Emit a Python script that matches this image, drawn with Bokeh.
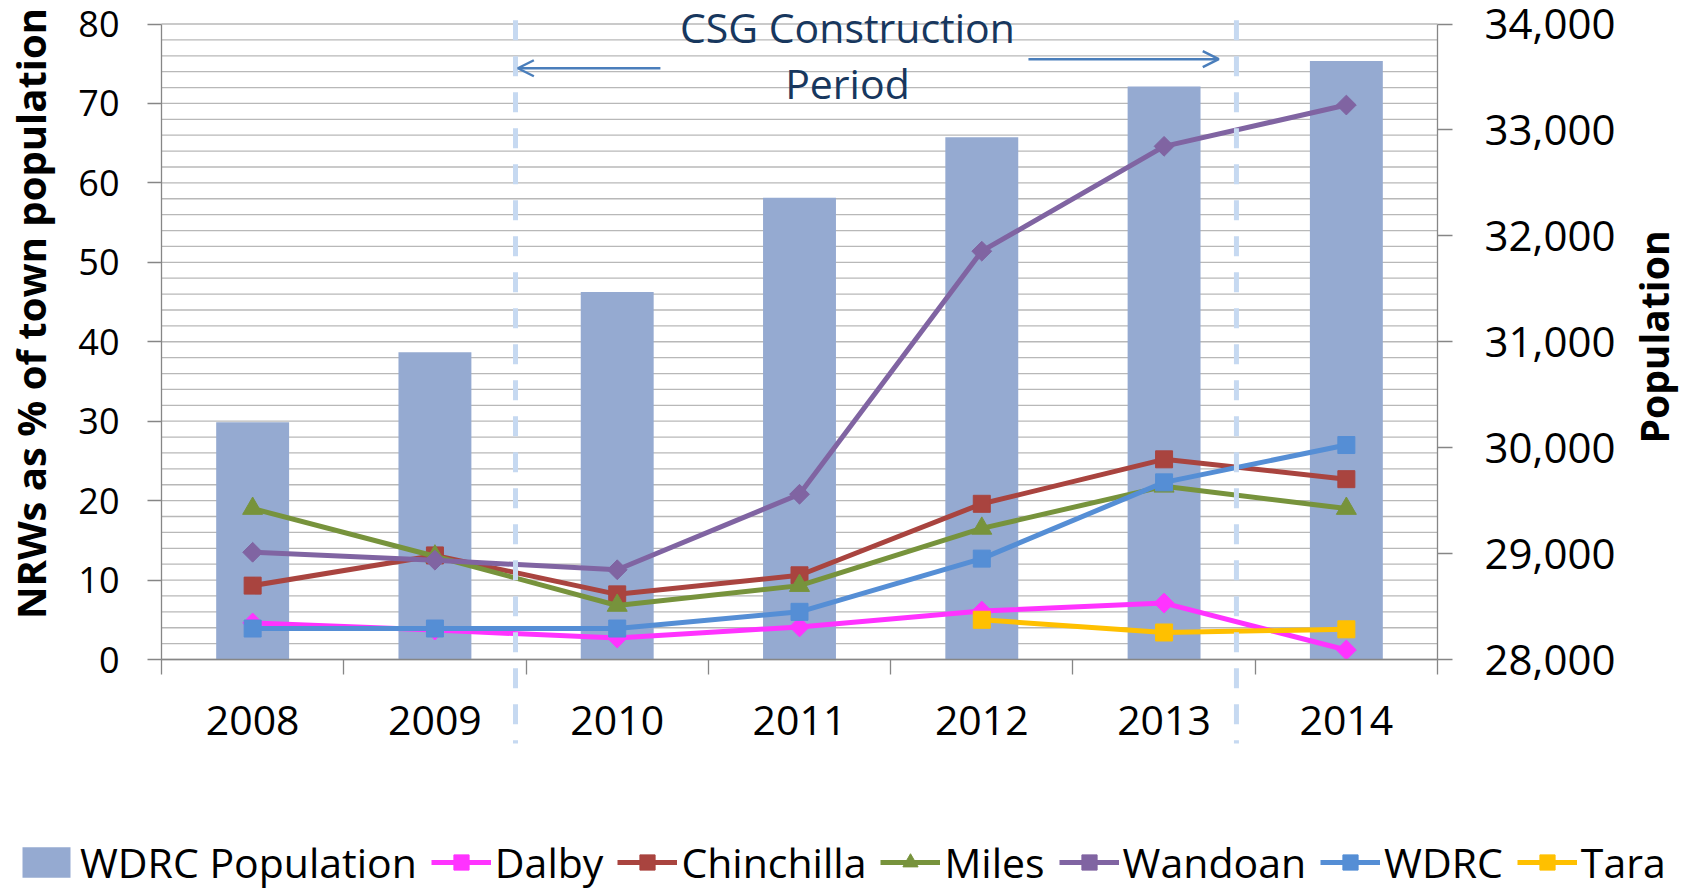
import math
from bokeh.plotting import figure
from bokeh.models import (Range1d, LinearAxis, FixedTicker, NumeralTickFormatter, Label,
                          Arrow, OpenHead, ColumnDataSource, Legend, LegendItem)
from bokeh.embed import file_html
from bokeh.resources import INLINE

NaN = float("nan")

# ---------------- data ----------------
years = ["2008", "2009", "2010", "2011", "2012", "2013", "2014"]
wdrc_population = [30240, 30900, 31470, 32360, 32930, 33410, 33650]
dalby = [4.6, 3.7, 2.7, 4.1, 6.1, 7.1, 1.2]
chinchilla = [9.3, 13.1, 8.2, 10.6, 19.6, 25.2, 22.7]
miles = [19.0, 13.0, 6.8, 9.3, 16.5, 21.8, 19.0]
wandoan = [13.5, 12.5, 11.3, 20.8, 51.4, 64.6, 69.8]
wdrc = [3.9, 3.9, 3.9, 6.0, 12.7, 22.3, 27.0]
tara = [NaN, NaN, NaN, NaN, 5.0, 3.4, 3.8]
left_ticks = [0, 10, 20, 30, 40, 50, 60, 70, 80]
grid_ticks = list(range(0, 81, 2))
right_ticks = [28000, 29000, 30000, 31000, 32000, 33000, 34000]

FONT = "Open Sans"
W, H = 1694, 889
n = len(years)
xs = [i + 0.5 for i in range(n)]

# the frame covers the whole canvas; plot area is x 161..1437 px, value 0 at 659 px, 80 at 23.5 px
XL, XR = 161.0, 1437.0
PXX = (XR - XL) / n
PX = (659 - 23.5) / 80.0
X0, X1 = -XL / PXX, n + (W - XR) / PXX
Y0, Y1 = -(H - 659) / PX, 80 + 23.5 / PX
POP0, POPK = 28000, 75.0  # right axis: 28,000 at value 0, 75 people per left-axis unit

p = figure(width=W, height=H, x_range=Range1d(X0, X1), y_range=Range1d(Y0, Y1),
           output_backend="svg", toolbar_location=None,
           min_border_left=0, min_border_right=0, min_border_top=0, min_border_bottom=0)
p.title.visible = False
p.outline_line_color = None
p.background_fill_color = "white"
p.extra_y_ranges = {"pop": Range1d(POP0 + Y0 * POPK, POP0 + Y1 * POPK)}
p.xgrid.visible = False
p.ygrid.visible = False

# horizontal gridlines over the plot area only
p.segment(x0=[0] * len(grid_ticks), x1=[n] * len(grid_ticks), y0=grid_ticks, y1=grid_ticks,
          line_color="#b8b8b8", line_width=1.3, level="underlay")

AX = "#868686"
# x axis (fixed at value 0)
xa = p.xaxis[0]
xa.fixed_location = 0
xa.bounds = (0, n)
xa.ticker = FixedTicker(ticks=xs, minor_ticks=list(range(0, n + 1)))
xa.major_label_overrides = {x: y for x, y in zip(xs, years)}
xa.major_tick_line_color = None
xa.major_tick_out = 0
xa.major_tick_in = 0
xa.minor_tick_out = 15
xa.minor_tick_in = 0
xa.minor_tick_line_color = AX
xa.minor_tick_line_width = 1.3
xa.axis_line_color = AX
xa.axis_line_width = 1.3
xa.major_label_text_font = FONT
xa.major_label_text_font_size = "41px"
xa.major_label_text_color = "black"
xa.major_label_standoff = 31

# left axis
ya = p.yaxis[0]
ya.fixed_location = 0
ya.bounds = (0, 80)
ya.ticker = FixedTicker(ticks=left_ticks)
ya.major_tick_out = 14
ya.major_tick_in = 0
ya.minor_tick_line_color = None
ya.major_tick_line_color = AX
ya.major_tick_line_width = 1.3
ya.axis_line_color = AX
ya.axis_line_width = 1.3
ya.major_label_text_font = FONT
ya.major_label_text_font_size = "36px"
ya.major_label_text_color = "black"
ya.major_label_standoff = 28

# left title carried by a bare axis (bounds only used to centre the title)
ta = LinearAxis(ticker=FixedTicker(ticks=[]), bounds=(7.2, 80), fixed_location=0,
                axis_label="NRWs as % of town population")
ta.axis_line_color = None
ta.major_tick_line_color = None
ta.minor_tick_line_color = None
ta.axis_label_text_font = FONT
ta.axis_label_text_font_size = "40px"
ta.axis_label_text_font_style = "bold"
ta.axis_label_text_color = "black"
ta.axis_label_standoff = 104
p.add_layout(ta, "left")

# right axis
ra = LinearAxis(y_range_name="pop", ticker=FixedTicker(ticks=right_ticks),
                formatter=NumeralTickFormatter(format="0,0"), bounds=(28000, 34000),
                fixed_location=n)
ra.major_tick_out = 15
ra.major_tick_in = 0
ra.minor_tick_line_color = None
ra.major_tick_line_color = AX
ra.major_tick_line_width = 1.3
ra.axis_line_color = AX
ra.axis_line_width = 1.3
ra.major_label_text_font = FONT
ra.major_label_text_font_size = "42px"
ra.major_label_text_color = "black"
ra.major_label_standoff = 32
p.add_layout(ra, "right")

# right title carried by a bare axis, reading bottom-to-top
rt = LinearAxis(ticker=FixedTicker(ticks=[]), bounds=(0, 54.4), fixed_location=n,
                axis_label="Population")
rt.axis_line_color = None
rt.major_tick_line_color = None
rt.minor_tick_line_color = None
rt.axis_label_text_font = FONT
rt.axis_label_text_font_size = "39px"
rt.axis_label_text_font_style = "bold"
rt.axis_label_text_color = "black"
rt.axis_label_standoff = 216
try:
    rt.axis_label_orientation = math.pi / 2
except Exception:
    pass
p.add_layout(rt, "right")

# bars
bars = p.vbar(x=xs, top=wdrc_population, bottom=POP0, width=0.4, y_range_name="pop",
              fill_color="#95aad1", line_color=None)

series = [
    ("Dalby", dalby, "#ff33ff", "diamond"),
    ("Chinchilla", chinchilla, "#a9443f", "square"),
    ("Miles", miles, "#77933c", "triangle"),
    ("Wandoan", wandoan, "#8064a2", "diamond"),
    ("WDRC", wdrc, "#558ed5", "square"),
    ("Tara", tara, "#ffc000", "square"),
]
items = [LegendItem(label="WDRC Population", renderers=[bars])]
for name, vals, col, mk in series:
    src = ColumnDataSource(dict(x=xs, y=vals))
    ln = p.line("x", "y", source=src, line_color=col, line_width=5)
    if mk == "diamond":
        sc = p.scatter("x", "y", source=src, marker="square", size=14, angle=math.pi / 4,
                       fill_color=col, line_color=col)
    elif mk == "triangle":
        sc = p.scatter("x", "y", source=src, marker="triangle", size=20,
                       fill_color=col, line_color=col)
    else:
        sc = p.scatter("x", "y", source=src, marker="square", size=17,
                       fill_color=col, line_color=col)
    items.append(LegendItem(label=name, renderers=[ln, sc]))

legend = Legend(items=items, orientation="horizontal", location=(16, -1),
                glyph_width=60, glyph_height=38, label_standoff=4, spacing=14,
                padding=0, margin=0, border_line_color=None, background_fill_alpha=0,
                label_text_font=FONT, label_text_font_size="41px", label_text_color="black")
p.add_layout(legend)

# construction period markers
DASH = "#c6d9f1"
YD0, YD1 = -(743 - 659) / PX, 80.48
for xd in (1.942, 5.897):
    p.add_layout(Arrow(x_start=xd, y_start=YD1, x_end=xd, y_end=YD0, end=None,
                       line_color=DASH, line_width=5, line_dash="20 16"))

ARC = "#4a7ebb"
p.add_layout(Arrow(x_start=2.737, y_start=74.43, x_end=1.955, y_end=74.43,
                   end=OpenHead(size=16, line_color=ARC, line_width=2.5),
                   line_color=ARC, line_width=2.5))
p.add_layout(Arrow(x_start=4.756, y_start=75.57, x_end=5.80, y_end=75.57,
                   end=OpenHead(size=16, line_color=ARC, line_width=2.5),
                   line_color=ARC, line_width=2.5))

NAVY = "#17375e"
p.add_layout(Label(x=3.763, y=79.68, text="CSG Construction", text_align="center",
                   text_baseline="alphabetic", text_font=FONT, text_font_size="41px",
                   text_color=NAVY))
p.add_layout(Label(x=3.763, y=72.63, text="Period", text_align="center",
                   text_baseline="alphabetic", text_font=FONT, text_font_size="41px",
                   text_color=NAVY))

open("out.html", "w").write(file_html(p, INLINE))
